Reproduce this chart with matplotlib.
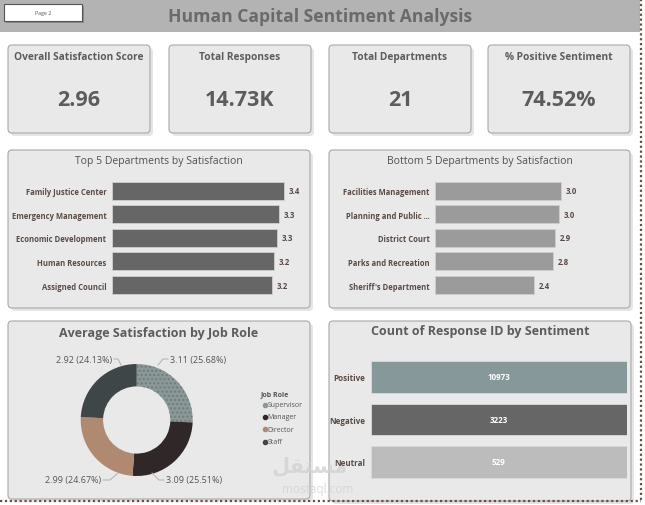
import matplotlib
matplotlib.use("Agg")
import matplotlib.pyplot as plt
from matplotlib.patches import FancyBboxPatch, Rectangle
import numpy as np

plt.rcParams['font.family'] = ['Open Sans', 'DejaVu Sans']

# ---------------- data ----------------
kpi_titles = ["Overall Satisfaction Score", "Total Responses", "Total Departments", "% Positive Sentiment"]
kpi_values = ["2.96", "14.73K", "21", "74.52%"]

top_depts = ["Family Justice Center", "Emergency Management", "Economic Development", "Human Resources", "Assigned Council"]
top_scores = [3.44, 3.34, 3.29, 3.24, 3.20]

bottom_depts = ["Facilities Management", "Planning and Public ...", "District Court", "Parks and Recreation", "Sheriff's Department"]
bottom_scores = [3.04, 2.98, 2.90, 2.84, 2.38]

roles = ["Supervisor", "Manager", "Director", "Staff"]
role_scores = [3.1098, 3.0893, 2.9875, 2.9221]
role_colors = ["#8a9998", "#302828", "#b08a70", "#3e4648"]

sentiments = ["Positive", "Negative", "Neutral"]
sentiment_counts = [10973, 3223, 529]
sentiment_colors = ["#869899", "#666666", "#bcbcbc"]

W, H = 645, 506
fig = plt.figure(figsize=(W / 100, H / 100), dpi=100)
fig.patch.set_facecolor("white")

def rect(x0, y0, x1, y1):
    return [x0 / W, 1 - y1 / H, (x1 - x0) / W, (y1 - y0) / H]

bg = fig.add_axes([0, 0, 1, 1], zorder=0)
bg.set_xlim(0, W)
bg.set_ylim(H, 0)
bg.axis("off")

TITLE_C = "#5c5c5c"
LAB_C = "#5a4a44"

# header
bg.add_patch(Rectangle((0, 0), 640, 32.5, color="#b3b3b3", lw=0))
bg.add_patch(Rectangle((5.5, 6.5), 78, 17, facecolor="#8a8a8a", edgecolor="none", lw=0))
bg.add_patch(Rectangle((4, 5), 78, 17, facecolor="white", edgecolor="#555555", lw=0.8))
bg.text(43, 13.5, "Page 2", fontsize=3.8, ha="center", va="center", color="#555555")
bg.text(320, 17, "Human Capital Sentiment Analysis", fontsize=12.6, fontweight="bold",
        ha="center", va="center", color="#6a6a6a")

# dotted borders
bg.plot([640.5, 640.5], [0, 502], ls=(0, (1, 1.2)), color="#6b4f3f", lw=1.6)
bg.plot([0, 640.5], [502, 502], ls=(0, (1, 1.2)), color="#6b4f3f", lw=1.6)

def panel(x0, y0, x1, y1):
    bg.add_patch(FancyBboxPatch((x0 + 3, y0 + 3), x1 - x0, y1 - y0,
                                boxstyle="round,pad=0,rounding_size=4",
                                facecolor="#d4d4d4", edgecolor="none", alpha=0.6))
    bg.add_patch(FancyBboxPatch((x0, y0), x1 - x0, y1 - y0,
                                boxstyle="round,pad=0,rounding_size=4",
                                facecolor="#e9e9e9", edgecolor="#a8a8a8", lw=0.8))

# KPI cards
card_x = [(8, 150), (169, 311), (329, 471), (488, 630)]
for (x0, x1), t, v in zip(card_x, kpi_titles, kpi_values):
    panel(x0, 46, x1, 134)
    bg.text((x0 + x1) / 2, 57, t, fontsize=7.3, fontweight="bold", ha="center", va="center", color=TITLE_C)
    bg.text((x0 + x1) / 2, 100, v, fontsize=15.5, fontweight="bold", ha="center", va="center", color="#5c5c5c")

# chart panels
panel(8, 151, 310, 309)
panel(329, 151, 630, 309)
panel(8, 322, 310, 500)
panel(329, 322, 631, 502)

bg.text(159, 161, "Top 5 Departments by Satisfaction", fontsize=7.5, ha="center", va="center", color="#505050")
bg.text(480, 161, "Bottom 5 Departments by Satisfaction", fontsize=7.5, ha="center", va="center", color="#505050")
bg.text(159, 333, "Average Satisfaction by Job Role", fontsize=9, fontweight="bold", ha="center", va="center", color=TITLE_C)
bg.text(480, 331, "Count of Response ID by Sentiment", fontsize=9, fontweight="bold", ha="center", va="center", color=TITLE_C)

# watermark
bg.text(310, 466, "\ufede\ufed8\ufe98\ufeb4\ufee3", family="DejaVu Sans", fontsize=15, fontweight="bold",
        ha="center", va="center", color="#d2d2d2", alpha=0.8, zorder=5)
bg.text(318, 490, "mostaql.com", fontsize=8.5, ha="center", va="center", color="#d2d2d2", alpha=0.8, zorder=5)

def hbar(ax_rect, names, vals, color, xmax):
    ax = fig.add_axes(ax_rect, zorder=1)
    ax.patch.set_alpha(0)
    y = np.arange(len(vals))
    ax.barh(y, vals, height=0.76, color=color, edgecolor="#cfcfcf", lw=0.6)
    ax.set_ylim(len(vals) - 0.5, -0.5)
    ax.set_xlim(0, xmax)
    ax.set_yticks(y)
    ax.set_yticklabels(names, fontsize=5.5, fontweight="bold", color=LAB_C)
    ax.tick_params(axis="y", length=0, pad=4)
    ax.set_xticks([])
    for s in ax.spines.values():
        s.set_visible(False)
    for yi, v in zip(y, vals):
        ax.text(v + xmax * 0.025, yi, f"{v:.1f}", fontsize=5.6, fontweight="bold",
                va="center", ha="left", color=LAB_C)
    return ax

hbar(rect(112, 179.9, 300, 297.8), top_depts, top_scores, "#666666", 188 / 50.0)
hbar(rect(435, 179.9, 625, 297.8), bottom_depts, bottom_scores, "#9b9b9b", 190 / 41.45)

# sentiment bars (each row is 100% of its own sentiment)
axs = fig.add_axes(rect(370.7, 356.75, 627, 484.25), zorder=1)
axs.patch.set_alpha(0)
ys = np.arange(len(sentiments))
shares = [c / c * 100 for c in sentiment_counts]
axs.barh(ys, shares, height=0.75, color=sentiment_colors, edgecolor="#dadada", lw=0.6)
axs.set_xlim(0, 100)
axs.set_ylim(len(sentiments) - 0.5, -0.5)
axs.set_yticks(ys)
axs.set_yticklabels(sentiments, fontsize=5.8, fontweight="bold", color=LAB_C)
axs.tick_params(axis="y", length=0, pad=4)
axs.set_xticks([])
for s in axs.spines.values():
    s.set_visible(False)
for yi, sh, c in zip(ys, shares, sentiment_counts):
    axs.text(sh / 2, yi, f"{c}", fontsize=5.8, fontweight="bold", ha="center", va="center", color="white")

# donut
cx, cy, R = 136.7, 421, 56
axp = fig.add_axes(rect(cx - R, cy - R, cx + R, cy + R), zorder=1)
axp.patch.set_alpha(0)
wedges, _ = axp.pie(role_scores, colors=role_colors, startangle=90, counterclock=False, radius=1,
                    wedgeprops=dict(width=0.4, lw=0))
wedges[0].set_hatch("....")
wedges[0].set_edgecolor("#6f7c7b")
wedges[0].set_linewidth(0)
axp.set_xlim(-1, 1)
axp.set_ylim(-1, 1)
axp.set_aspect("equal")
axp.axis("off")

total = sum(role_scores)
def d(px, py):
    return ((px - cx) / R, -(py - cy) / R)

label_spec = {
    "Supervisor": dict(text_at=(170, 360), ha="left", line=[(168, 360), (163, 360), (158, 366)]),
    "Manager": dict(text_at=(166, 481), ha="left", line=[(164, 481), (159, 481), (152, 474)]),
    "Director": dict(text_at=(101, 481), ha="right", line=[(103, 481), (110, 481), (118, 474)]),
    "Staff": dict(text_at=(112, 360), ha="right", line=[(114, 360), (118, 360), (121, 366)]),
}
for r, v in zip(roles, role_scores):
    spec = label_spec[r]
    tx, ty = d(*spec["text_at"])
    axp.text(tx, ty, f"{v:.2f} ({v / total * 100:.2f}%)", fontsize=6.5, ha=spec["ha"], va="center",
             color="#555555", clip_on=False)
    pts = [d(*p) for p in spec["line"]]
    axp.plot([p[0] for p in pts], [p[1] for p in pts], color="#b0b0b0", lw=0.7, clip_on=False)

# legend
bg.text(261, 394.5, "Job Role", fontsize=5, fontweight="bold", ha="left", va="center", color="#555555")
for i, (r, c) in enumerate(zip(roles, role_colors)):
    yy = 405.5 + i * 12.4
    bg.scatter([264.5], [yy], s=9, color=c, zorder=3)
    bg.text(267.5, yy, r, fontsize=5, ha="left", va="center", color="#555555")

fig.savefig("out.png", dpi=100, facecolor="white")
